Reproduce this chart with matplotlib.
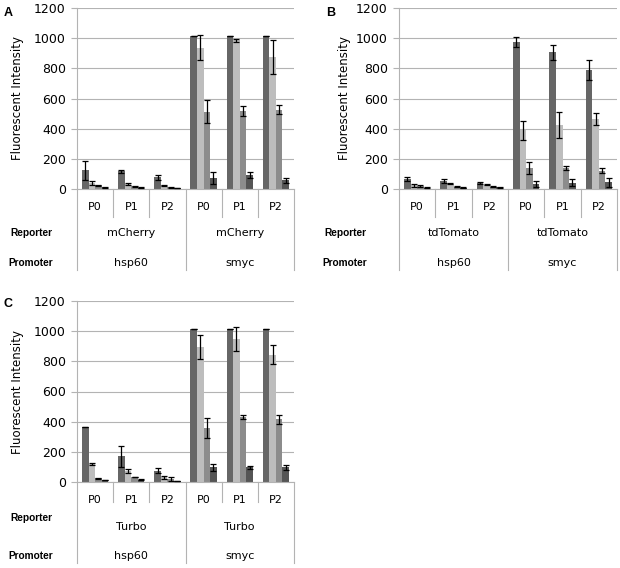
import matplotlib
matplotlib.use('Agg')
from matplotlib import pyplot as plt

# categories
passages = ['P0', 'P1', 'P2', 'P0', 'P1', 'P2']
promoters = ['hsp60', 'smyc']
reporters = ['mCherry', 'tdTomato', 'Turbo']
panel_names = ['A', 'B', 'C']

# 4 bars per category (6 categories each)
mcherry_vals = [
    [123, 117, 77, 1015, 1015, 1015],
    [38, 33, 24, 938, 985, 874],
    [24, 18, 11, 512, 517, 525],
    [11, 9, 7, 73, 90, 57],
]
mcherry_errs = [
    [62, 12, 18, 0, 0, 0],
    [14, 8, 4, 83, 12, 113],
    [5, 3, 2, 75, 35, 30],
    [2, 2, 1, 40, 20, 15],
]
tdtomato_vals = [
    [68, 53, 42, 976, 907, 788],
    [26, 35, 29, 389, 424, 464],
    [20, 15, 15, 141, 141, 121],
    [9, 9, 11, 35, 42, 44],
]
tdtomato_errs = [
    [12, 10, 6, 35, 50, 65],
    [10, 4, 3, 65, 85, 40],
    [4, 2, 2, 40, 12, 15],
    [2, 2, 2, 20, 25, 28],
]
turbo_vals = [
    [362, 170, 75, 1015, 1015, 1015],
    [119, 73, 33, 894, 949, 845],
    [26, 33, 18, 358, 430, 417],
    [13, 15, 7, 97, 97, 97],
]
turbo_errs = [
    [0, 70, 18, 0, 0, 0],
    [8, 12, 10, 80, 80, 60],
    [3, 3, 12, 65, 15, 30],
    [2, 2, 2, 25, 10, 15],
]

colors = ['#666666', '#bdbdbd', '#8c8c8c', '#555555']
grid_c = '#b3b3b3'
W, H = 620, 568

fig = plt.figure(figsize=(W / 100, H / 100), dpi=100)


def fx(px):
    return px / W


def fy(py):
    return 1 - py / H


def panel(left, right, top, bottom, vals, errs, reporter, letter, letter_xy,
          ylab_x, row_x, p_y, minor_y, rep_y, prom_y, line_y, rep_lab_y):
    ax = fig.add_axes([fx(left), fy(bottom), fx(right - left), (bottom - top) / H])
    hgt = bottom - top
    bw = 0.182
    for j in range(4):
        xs = [i + (j - 1.5) * bw for i in range(6)]
        ax.bar(xs, vals[j], width=bw, color=colors[j], zorder=2)
        ax.errorbar(xs, vals[j], yerr=errs[j], fmt='none', ecolor='black',
                    elinewidth=0.9, capsize=2.4, capthick=0.9, zorder=3)
    ax.set_xlim(-0.5, 5.5)
    ax.set_ylim(0, 1200)
    ax.set_yticks(range(0, 1201, 200))
    ax.yaxis.grid(True, color=grid_c, lw=0.8, zorder=0)
    ax.set_axisbelow(True)
    for s in ['top', 'right']:
        ax.spines[s].set_visible(False)
    ax.spines['left'].set_color(grid_c)
    ax.spines['bottom'].set_color(grid_c)
    ax.tick_params(axis='y', length=4, color=grid_c, labelsize=9, pad=4)
    ax.tick_params(axis='x', length=0, labelbottom=False)

    tr = ax.get_xaxis_transform()
    # separators below the axis
    for xe in [-0.5, 2.5, 5.5]:
        ax.plot([xe, xe], [0, -line_y / hgt], transform=tr, color=grid_c,
                lw=0.8, clip_on=False)
    for xe in [0.5, 1.5, 3.5, 4.5]:
        ax.plot([xe, xe], [0, -minor_y / hgt], transform=tr, color=grid_c,
                lw=0.8, clip_on=False)
    for i, p in enumerate(passages):
        ax.text(i, -p_y / hgt, p, transform=tr, ha='center', va='center',
                fontsize=8)
    for k, pr in enumerate(promoters):
        ax.text(1 + 3 * k, -rep_y / hgt, reporter, transform=tr, ha='center',
                va='center', fontsize=8)
        ax.text(1 + 3 * k, -prom_y / hgt, pr, transform=tr, ha='center',
                va='center', fontsize=8)

    fig.text(fx(row_x), fy(bottom + rep_lab_y), 'Reporter', ha='center',
             va='center', fontsize=7.3, fontweight='bold', family='Liberation Sans')
    fig.text(fx(row_x), fy(bottom + prom_y), 'Promoter', ha='center',
             va='center', fontsize=7.3, fontweight='bold', family='Liberation Sans')
    fig.text(fx(ylab_x), fy((top + bottom) / 2), 'Fluorescent Intensity',
             rotation=90, ha='center', va='center', fontsize=8.5)
    fig.text(fx(letter_xy[0]), fy(letter_xy[1]), letter, ha='center',
             va='center', fontsize=9, fontweight='bold', family='Liberation Sans')
    return ax


panel(77, 294, 8, 189, mcherry_vals, mcherry_errs, reporters[0], panel_names[0],
      (8, 13), 18, 31, 18, 28, 44, 74, 81, 44)
panel(399, 617, 8, 189, tdtomato_vals, tdtomato_errs, reporters[1], panel_names[1],
      (331, 13), 345, 345, 18, 28, 44, 74, 81, 44)
panel(77, 294, 301, 482, turbo_vals, turbo_errs, reporters[2], panel_names[2],
      (8, 304), 18, 31, 18, 20, 45, 74, 81, 36)

fig.savefig('out.png', dpi=100)
